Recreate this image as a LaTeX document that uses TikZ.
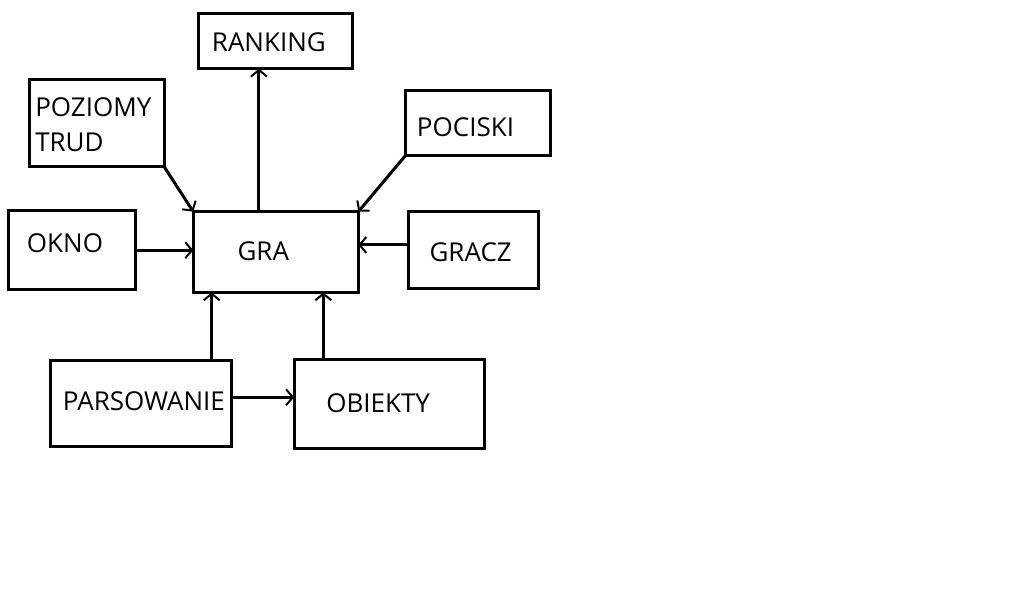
\documentclass[tikz,border=0pt]{standalone}
\usepackage{fontspec}
\setmainfont{Open Sans}
\usetikzlibrary{arrows.meta,calc}

\begin{document}
\begin{tikzpicture}[x=0.75pt, y=-0.75pt, >={Straight Barb[length=5pt,width=12pt,line width=1.5pt]}]
  \tikzstyle{box}=[rectangle, draw, line width=2.25pt, inner sep=0pt, outer sep=0pt]
  \tikzstyle{boxtext}=[anchor=base west, inner sep=0pt, align=left, font=\fontsize{19.5pt}{26.25pt}\selectfont]
  \tikzstyle{link}=[->, line width=2.25pt]
  \useasboundingbox (0,0) rectangle (1011,594);

  \node[box, minimum width=115.3pt, minimum height=41pt] (ranking) at (275.8,41.3) {};
  \node[box, minimum width=101pt, minimum height=65.5pt] (poziomy) at (97,123.3) {};
  \node[box, minimum width=109pt, minimum height=48.5pt] (pociski) at (478.3,123) {};
  \node[box, minimum width=95.5pt, minimum height=59.3pt] (okno) at (71.7,250.2) {};
  \node[box, minimum width=123.8pt, minimum height=60.5pt] (gra) at (275.8,252) {};
  \node[box, minimum width=96.8pt, minimum height=57.5pt] (gracz) at (473.5,250.3) {};
  \node[box, minimum width=136pt, minimum height=64.7pt] (parsowanie) at (141.3,403.8) {};
  \node[box, minimum width=142.7pt, minimum height=66.5pt] (obiekty) at (389.2,404.3) {};

  \node[boxtext] (t-ranking) at (211.7,51) {RANKING};
  \node[boxtext] (t-poziomy) at (35,151.7) {POZIOMY\\TRUD};
  \node[boxtext] (t-pociski) at (416.7,136) {POCISKI};
  \node[boxtext] (t-okno) at (26.7,252.7) {OKNO};
  \node[boxtext] (t-gra) at (237.3,260.7) {GRA};
  \node[boxtext] (t-gracz) at (429.3,261.7) {GRACZ};
  \node[boxtext] (t-parsowanie) at (62.7,410) {PARSOWANIE};
  \node[boxtext] (t-obiekty) at (326,412.7) {OBIEKTY};

  \coordinate (g-top) at ($(gra.north west)!0.398!(gra.north east)$);
  \draw[link] (g-top) -- (g-top |- ranking.south);
  \draw[link] (poziomy.south east) -- (gra.north west);
  \draw[link] (pociski.south west) -- (gra.north east);
  \draw[link] (okno.east) -- (okno.east -| gra.west);
  \coordinate (g-in) at ($(gracz.north west)!0.43!(gracz.south west)$);
  \draw[link] (g-in) -- (g-in -| gra.east);
  \coordinate (p-up) at ($(parsowanie.north west)!0.888!(parsowanie.north east)$);
  \draw[link] (p-up) -- (p-up |- gra.south);
  \coordinate (o-up) at ($(obiekty.north west)!0.154!(obiekty.north east)$);
  \draw[link] (o-up) -- (o-up |- gra.south);
  \coordinate (p-out) at ($(parsowanie.north east)!0.424!(parsowanie.south east)$);
  \draw[link] (p-out) -- (p-out -| obiekty.west);
\end{tikzpicture}
\end{document}
